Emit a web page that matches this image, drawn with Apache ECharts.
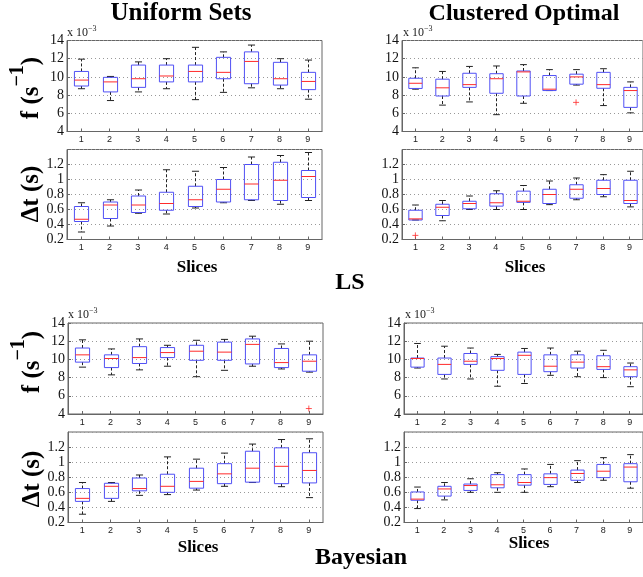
<!DOCTYPE html>
<html>
<head>
<meta charset="utf-8">
<script src="https://cdn.jsdelivr.net/npm/echarts@6/dist/echarts.min.js"></script>
<style>html,body{margin:0;padding:0;background:#fff;}#c{width:643px;height:577px;}</style>
</head>
<body>
<div id="c"></div>
<script>
// ---------- data ----------
const slices = ['1', '2', '3', '4', '5', '6', '7', '8', '9'];
const fTicks = [4, 6, 8, 10, 12, 14];            // f axis, ×10^-3 s^-1
const dtTicks = [0.2, 0.4, 0.6, 0.8, 1.0, 1.2, 1.4]; // Δt axis, s

// each row: [min, Q1, median, Q3, max]
// f values in units of 10^-3 s^-1
const lsUniformF = [
  [8.7, 9.0, 9.65, 10.6, 11.95],
  [7.4, 8.35, 9.45, 9.95, 10.05],
  [8.35, 8.85, 9.8, 11.3, 11.65],
  [8.7, 9.45, 10.1, 11.3, 12.0],
  [7.5, 9.45, 10.6, 11.3, 13.25],
  [8.3, 9.8, 10.5, 12.15, 12.75],
  [8.8, 9.25, 11.7, 12.75, 13.5],
  [8.7, 9.1, 9.8, 11.6, 12.0],
  [7.55, 8.6, 9.5, 10.5, 11.85]
];
const lsUniformFOut = [];
const lsUniformDt = [
  [0.30, 0.44, 0.47, 0.64, 0.69],
  [0.38, 0.48, 0.66, 0.70, 0.73],
  [0.55, 0.56, 0.66, 0.78, 0.86],
  [0.54, 0.59, 0.68, 0.83, 1.13],
  [0.62, 0.64, 0.73, 0.91, 1.11],
  [0.69, 0.70, 0.87, 1.00, 1.16],
  [0.72, 0.73, 0.94, 1.20, 1.30],
  [0.67, 0.72, 0.99, 1.23, 1.32],
  [0.72, 0.76, 1.04, 1.12, 1.36]
];
const lsUniformDtOut = [];
const lsClusteredF = [
  [8.65, 8.73, 9.3, 9.85, 11.0],
  [6.9, 7.9, 8.8, 9.75, 10.6],
  [7.25, 8.85, 9.15, 10.4, 11.15],
  [5.85, 8.2, 9.8, 10.35, 11.2],
  [7.1, 7.9, 10.55, 10.65, 11.35],
  [8.5, 8.5, 8.65, 10.15, 10.8],
  [9.1, 9.2, 10.0, 10.3, 10.8],
  [6.85, 8.75, 9.15, 10.5, 10.9],
  [6.05, 6.65, 8.5, 8.85, 9.45]
];
const lsClusteredFOut = [['7', 7.2]];
const lsClusteredDt = [
  [0.46, 0.46, 0.475, 0.59, 0.66],
  [0.45, 0.52, 0.63, 0.67, 0.72],
  [0.60, 0.61, 0.68, 0.71, 0.78],
  [0.60, 0.645, 0.69, 0.81, 0.85],
  [0.60, 0.695, 0.71, 0.845, 0.92],
  [0.665, 0.68, 0.80, 0.87, 0.98],
  [0.73, 0.75, 0.87, 0.93, 1.02],
  [0.77, 0.80, 0.88, 0.99, 1.065],
  [0.635, 0.68, 0.72, 0.99, 1.11]
];
const lsClusteredDtOut = [['1', 0.255]];
const bayesUniformF = [
  [9.15, 9.7, 10.5, 11.25, 12.15],
  [8.3, 9.1, 10.1, 10.5, 11.15],
  [8.85, 9.55, 10.2, 11.4, 12.25],
  [9.25, 10.2, 10.75, 11.3, 11.55],
  [8.1, 9.9, 10.9, 11.55, 12.1],
  [8.8, 9.9, 10.8, 11.9, 12.2],
  [9.25, 9.5, 11.65, 12.25, 12.55],
  [8.95, 9.1, 9.65, 11.2, 11.7],
  [8.6, 8.7, 9.8, 10.5, 12.0]
];
const bayesUniformFOut = [['9', 4.6]];
const bayesUniformDt = [
  [0.31, 0.48, 0.52, 0.65, 0.73],
  [0.48, 0.52, 0.68, 0.72, 0.73],
  [0.56, 0.62, 0.65, 0.79, 0.83],
  [0.57, 0.60, 0.68, 0.84, 1.07],
  [0.63, 0.655, 0.745, 0.92, 1.04],
  [0.68, 0.715, 0.845, 0.98, 1.12],
  [0.73, 0.735, 0.92, 1.145, 1.24],
  [0.675, 0.715, 0.945, 1.19, 1.30],
  [0.53, 0.725, 0.89, 1.125, 1.31]
];
const bayesUniformDtOut = [];
const bayesClusteredF = [
  [9.05, 9.15, 10.1, 10.15, 11.75],
  [7.85, 8.35, 9.45, 10.15, 11.45],
  [7.85, 9.45, 9.8, 10.65, 11.25],
  [7.05, 8.8, 10.1, 10.3, 10.55],
  [7.35, 8.35, 10.45, 10.8, 11.2],
  [8.25, 8.65, 9.25, 10.5, 11.25],
  [8.1, 9.05, 9.7, 10.5, 10.9],
  [8.0, 8.9, 9.2, 10.4, 11.0],
  [7.0, 8.1, 8.85, 9.2, 9.6]
];
const bayesClusteredFOut = [];
const bayesClusteredDt = [
  [0.385, 0.495, 0.51, 0.605, 0.67],
  [0.50, 0.55, 0.645, 0.68, 0.73],
  [0.60, 0.625, 0.69, 0.71, 0.78],
  [0.60, 0.66, 0.70, 0.835, 0.86],
  [0.60, 0.695, 0.73, 0.835, 0.91],
  [0.675, 0.705, 0.795, 0.845, 0.97],
  [0.73, 0.76, 0.85, 0.895, 1.02],
  [0.76, 0.795, 0.88, 0.97, 1.06],
  [0.655, 0.74, 0.935, 0.98, 1.10]
];
const bayesClusteredDtOut = [];

// ---------- layout ----------
const SERIF = '"Liberation Serif","Times New Roman",serif';
const SANS = '"Liberation Sans",Arial,sans-serif';
const panels = [
  {grid: {left: 67, top: 40.5, width: 255, height: 91}, kind: 'f', data: lsUniformF, out: lsUniformFOut},
  {grid: {left: 67, top: 149.5, width: 255, height: 90}, kind: 'dt', data: lsUniformDt, out: lsUniformDtOut},
  {grid: {left: 402, top: 40.5, width: 243, height: 91}, kind: 'f', data: lsClusteredF, out: lsClusteredFOut},
  {grid: {left: 402, top: 149.5, width: 243, height: 90}, kind: 'dt', data: lsClusteredDt, out: lsClusteredDtOut},
  {grid: {left: 68, top: 323, width: 255, height: 91}, kind: 'f', data: bayesUniformF, out: bayesUniformFOut},
  {grid: {left: 68, top: 432, width: 255, height: 90.5}, kind: 'dt', data: bayesUniformDt, out: bayesUniformDtOut},
  {grid: {left: 404, top: 323, width: 242, height: 91}, kind: 'f', data: bayesClusteredF, out: bayesClusteredFOut},
  {grid: {left: 404, top: 432, width: 242, height: 90.5}, kind: 'dt', data: bayesClusteredDt, out: bayesClusteredDtOut}
];

function renderBox(params, api) {
  const x = api.value(0);
  const lo = api.coord([x, api.value(1)]);
  const q1 = api.coord([x, api.value(2)]);
  const md = api.coord([x, api.value(3)]);
  const q3 = api.coord([x, api.value(4)]);
  const hi = api.coord([x, api.value(5)]);
  const bw = api.size([1, 0])[0] * 0.5;
  const hw = bw / 2, cw = bw / 4;
  const cx = Math.round(lo[0]) + 0.5;
  const whisk = {stroke: '#222', lineWidth: 1, lineDash: [3, 2]};
  const solid = {stroke: '#222', lineWidth: 1};
  return {
    type: 'group',
    children: [
      {type: 'line', shape: {x1: cx, y1: q3[1], x2: cx, y2: hi[1]}, style: whisk},
      {type: 'line', shape: {x1: cx, y1: q1[1], x2: cx, y2: lo[1]}, style: whisk},
      {type: 'line', shape: {x1: cx - cw, y1: hi[1], x2: cx + cw, y2: hi[1]}, style: solid},
      {type: 'line', shape: {x1: cx - cw, y1: lo[1], x2: cx + cw, y2: lo[1]}, style: solid},
      {type: 'rect', shape: {x: cx - hw, y: q3[1], width: bw, height: q1[1] - q3[1]},
        style: {fill: 'none', stroke: '#5050f5', lineWidth: 1}},
      {type: 'line', shape: {x1: cx - hw, y1: md[1], x2: cx + hw, y2: md[1]},
        style: {stroke: '#ff2a2a', lineWidth: 1}}
    ]
  };
}

const grids = [], xAxes = [], yAxes = [], series = [];
panels.forEach((p, i) => {
  grids.push(Object.assign({show: true, borderColor: '#666', borderWidth: 1, backgroundColor: '#fff'}, p.grid));
  xAxes.push({
    type: 'category', gridIndex: i, data: slices,
    axisLine: {show: true, lineStyle: {color: '#666'}},
    axisTick: {show: true, inside: true, alignWithLabel: true, length: 3, lineStyle: {color: '#666'}},
    axisLabel: {fontFamily: SANS, fontSize: 9, color: '#222', margin: 4},
    splitLine: {show: false}
  });
  const ticks = p.kind === 'f' ? fTicks : dtTicks;
  const step = +(ticks[1] - ticks[0]).toFixed(3);
  yAxes.push({
    type: 'value', gridIndex: i,
    min: ticks[0], max: ticks[ticks.length - 1], interval: step,
    axisLine: {show: true, lineStyle: {color: '#666'}},
    axisTick: {show: true, inside: true, length: 3, lineStyle: {color: '#666'}},
    axisLabel: {
      fontFamily: SERIF, fontSize: 14, color: '#111', margin: 3,
      showMaxLabel: p.kind === 'f',
      formatter: v => String(parseFloat((+v).toFixed(1)))
    },
    splitLine: {show: true, lineStyle: {color: '#999', type: [1, 3], width: 1}}
  });
  series.push({
    type: 'custom', xAxisIndex: i, yAxisIndex: i,
    renderItem: renderBox,
    encode: {x: 0, y: [1, 2, 3, 4, 5]},
    data: p.data.map((r, k) => [k].concat(r)),
    z: 3
  });
  series.push({
    type: 'scatter', xAxisIndex: i, yAxisIndex: i,
    symbol: 'path://M0,5L10,5M5,0L5,10', symbolSize: 6,
    itemStyle: {color: 'none', borderColor: '#ff2a2a', borderWidth: 1},
    data: p.out, z: 4
  });
});

function txt(x, y, text, size, extra) {
  return {
    type: 'text', x: x, y: y, z: 10,
    style: Object.assign({text: text, fontFamily: SERIF, fontSize: size, fontWeight: 'bold', fill: '#000',
      align: 'center', verticalAlign: 'middle'}, extra || {})
  };
}
function yName(x, y, isF) {
  const rich = {
    a: {fontFamily: SERIF, fontSize: 25, fontWeight: 'bold', lineHeight: 36, verticalAlign: 'bottom'},
    b: {fontFamily: SERIF, fontSize: 20, fontWeight: 'bold', lineHeight: 20, verticalAlign: 'top'}
  };
  const text = isF ? '{a|f (s}{b|\u22121}{a|)}' : '{a|\u0394t (s)}';
  return {type: 'text', x: x, y: y, rotation: Math.PI / 2, z: 10,
    style: {text: text, rich: rich, align: 'center', verticalAlign: 'middle', fill: '#000'}};
}
function expo(x, y) {
  return {type: 'text', x: x, y: y, z: 10,
    style: {text: '{a|x 10}{b|\u22123}', align: 'left', verticalAlign: 'bottom', fill: '#222',
      rich: {a: {fontFamily: SERIF, fontSize: 12, lineHeight: 14, verticalAlign: 'bottom'},
             b: {fontFamily: SERIF, fontSize: 8, lineHeight: 8, verticalAlign: 'top'}}}};
}

const graphics = [
  txt(181, 14, 'Uniform Sets', 25),
  txt(524, 14, 'Clustered Optimal', 24),
  txt(350, 283, 'LS', 24),
  txt(361, 558, 'Bayesian', 24),
  txt(197, 268, 'Slices', 17),
  txt(525, 268, 'Slices', 17),
  txt(198, 548, 'Slices', 17),
  txt(529, 544, 'Slices', 17),
  yName(26, 88, true),
  yName(26, 194, false),
  yName(27, 362, true),
  yName(27, 479, false),
  expo(67, 39),
  expo(403, 39),
  expo(68, 321),
  expo(405, 321)
];

const chart = echarts.init(document.getElementById('c'), null, {renderer: 'canvas'});
chart.setOption({
  animation: false,
  backgroundColor: '#fff',
  grid: grids,
  xAxis: xAxes,
  yAxis: yAxes,
  series: series,
  graphic: graphics
});
</script>
</body>
</html>
